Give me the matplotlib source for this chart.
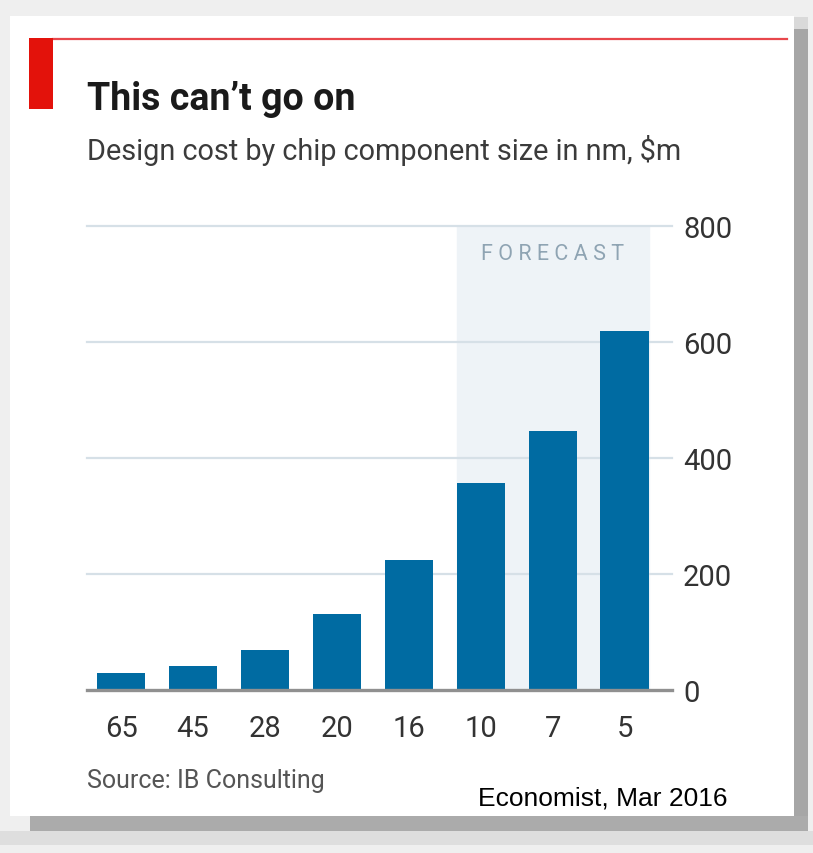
import matplotlib
matplotlib.use("Agg")
import matplotlib.pyplot as plt
from matplotlib.patches import Rectangle

# ── Data ──────────────────────────────────────────────────────────────────────
node_sizes = ["65", "45", "28", "20", "16", "10", "7", "5"]
design_cost = [29, 41, 69, 131, 224, 357, 447, 619]   # $m
forecast_from = 5                                       # index of first forecast bar
y_ticks = [0, 200, 400, 600, 800]

TITLE = "This can\u2019t go on"
SUBTITLE = "Design cost by chip component size in nm, $m"
SOURCE = "Source: IB Consulting"
CREDIT = "Economist, Mar 2016"

# ── Style ─────────────────────────────────────────────────────────────────────
W, H = 813, 854
BLUE = "#006ba2"
RED = "#e3120b"
GRID = "#d6e0e7"
SHADE = "#eef3f7"
FONT = ["Roboto", "DejaVu Sans"]

fig = plt.figure(figsize=(W / 100, H / 100), dpi=100)
fig.patch.set_facecolor("#efefef")


def fx(x):
    return x / W


def fy(y):
    return 1 - y / H


def px_rect(x0, y0, x1, y1, color, z=-10):
    fig.add_artist(Rectangle((fx(x0), fy(y1)), fx(x1) - fx(x0), fy(y0) - fy(y1),
                             transform=fig.transFigure, facecolor=color,
                             edgecolor="none", zorder=z))


# card shadow and card (kept behind the axes)
px_rect(0, 832, W, 846, "#dedede")
px_rect(30, 817, 808, 832, "#ababab")
px_rect(794, 30, 808, 817, "#a6a6a6")
px_rect(794, 18, 808, 30, "#d9d9d9")
px_rect(10, 17, 794, 817, "white", z=-5)

# red header line and tab
fig.add_artist(plt.Line2D([fx(53), fx(787)], [fy(40), fy(40)], transform=fig.transFigure,
                          color="#e8474c", lw=1.6))
px_rect(29, 39, 53, 110, RED, z=2)

fig.text(fx(87), fy(110), TITLE, family=FONT, fontsize=27, fontweight="bold",
         color="#1a1a1a", va="baseline", ha="left")
fig.text(fx(87), fy(160), SUBTITLE, family=FONT, fontsize=20.8,
         color="#3b3b3b", va="baseline", ha="left")

# ── Bars ──────────────────────────────────────────────────────────────────────
ax = fig.add_axes([fx(87), fy(691), fx(672) - fx(87), fy(227) - fy(691)])
ax.set_facecolor("none")
x = list(range(len(node_sizes)))
ax.set_xlim(-0.473, 7.66)
ax.set_ylim(0, 800)

# forecast band
ax.axvspan(forecast_from - 0.335, len(node_sizes) - 1 + 0.335, color=SHADE, zorder=0)
ax.text((forecast_from + len(node_sizes) - 1) / 2, 752, "F O R E C A S T",
        family=FONT, fontsize=15.5, color="#8fa4b3", ha="center", va="center")

for t in y_ticks[1:]:
    ax.axhline(t, color=GRID, lw=1.6, zorder=1, clip_on=False)

ax.bar(x, design_cost, width=0.67, color=BLUE, zorder=2)
ax.axhline(0, color="#909090", lw=2.4, zorder=3, clip_on=False)

for s in ax.spines.values():
    s.set_visible(False)
ax.yaxis.tick_right()
ax.set_yticks(y_ticks)
ax.set_yticklabels([str(t) for t in y_ticks], family=FONT, fontsize=21, color="#333333")
ax.set_xticks(x)
ax.set_xticklabels(node_sizes, family=FONT, fontsize=21, color="#333333")
ax.tick_params(axis="y", length=0, pad=8)
ax.tick_params(axis="x", length=0, pad=17)

fig.text(fx(87), fy(788), SOURCE, family=FONT, fontsize=18,
         color="#555555", va="baseline", ha="left")
fig.text(fx(478), fy(806), CREDIT, family="Liberation Sans", fontsize=19,
         color="black", va="baseline", ha="left")

fig.savefig("out.png", dpi=100)
